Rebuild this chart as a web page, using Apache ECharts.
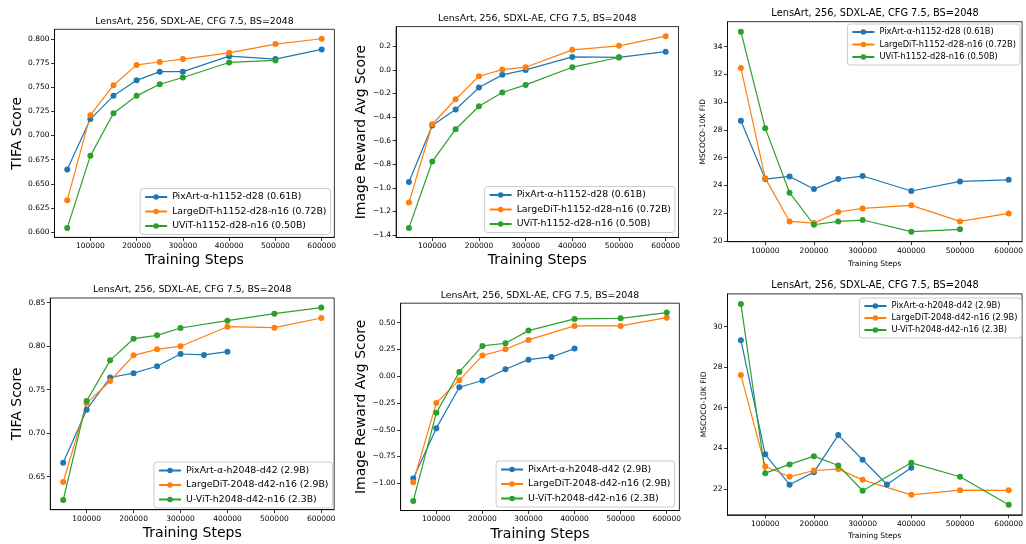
<!DOCTYPE html>
<html><head><meta charset="utf-8">
<script src="https://cdn.jsdelivr.net/npm/echarts@6/dist/echarts.min.js"></script>
<style>html,body{margin:0;padding:0;background:#fff}#c{width:1026px;height:544px}</style>
</head><body><div id="c"></div>
<script>
// ---------- data ----------
const titleText = 'LensArt, 256, SDXL-AE, CFG 7.5, BS=2048';
const xName = 'Training Steps';
const xTicks = [100000, 200000, 300000, 400000, 500000, 600000];

const steps = [50000, 100000, 150000, 200000, 250000, 300000, 400000, 500000, 600000];
const stepsTo500k = [50000, 100000, 150000, 200000, 250000, 300000, 400000, 500000];
const stepsPixBottom = [50000, 100000, 150000, 200000, 250000, 300000, 350000, 400000];

const namesTop = ['PixArt-α-h1152-d28 (0.61B)', 'LargeDiT-h1152-d28-n16 (0.72B)', 'UViT-h1152-d28-n16 (0.50B)'];
const namesBottom = ['PixArt-α-h2048-d42 (2.9B)', 'LargeDiT-2048-d42-n16 (2.9B)', 'U-ViT-h2048-d42-n16 (2.3B)'];

// top row
const tifaTopPix   = [0.665, 0.717, 0.741, 0.757, 0.766, 0.766, 0.782, 0.779, 0.789];
const tifaTopLarge = [0.633, 0.721, 0.752, 0.773, 0.776, 0.779, 0.7855, 0.7945, 0.800];
const tifaTopUvit  = [0.6045, 0.679, 0.723, 0.741, 0.753, 0.760, 0.7755, 0.7776];

const irTopPix   = [-0.95, -0.472, -0.336, -0.15, -0.042, 0.0, 0.11, 0.107, 0.155];
const irTopLarge = [-1.125, -0.461, -0.249, -0.054, 0.003, 0.023, 0.17, 0.204, 0.286];
const irTopUvit  = [-1.34, -0.777, -0.503, -0.308, -0.192, -0.127, 0.023, 0.105];

const fidTopPix   = [28.66, 24.46, 24.65, 23.74, 24.46, 24.68, 23.6, 24.29, 24.41];
const fidTopLarge = [32.47, 24.53, 21.41, 21.29, 22.09, 22.35, 22.57, 21.41, 21.99];
const fidTopUvit  = [35.08, 28.13, 23.48, 21.17, 21.41, 21.51, 20.67, 20.84];

// bottom row
const tifaBotPix   = [0.666, 0.727, 0.764, 0.769, 0.777, 0.791, 0.790, 0.7937];
const tifaBotLarge = [0.644, 0.7343, 0.760, 0.7895, 0.7964, 0.800, 0.8224, 0.8213, 0.8324];
const tifaBotUvit  = [0.6232, 0.737, 0.7837, 0.8086, 0.8125, 0.8209, 0.8293, 0.8374, 0.8443];

const irBotPix   = [-0.955, -0.485, -0.103, -0.04, 0.065, 0.155, 0.18, 0.258];
const irBotLarge = [-0.99, -0.249, -0.037, 0.193, 0.252, 0.339, 0.47, 0.47, 0.547];
const irBotUvit  = [-1.166, -0.342, 0.04, 0.283, 0.308, 0.426, 0.535, 0.541, 0.594];

const fidBotPix   = [29.33, 23.7, 22.2, 22.82, 24.65, 23.43, 22.21, 23.04];
const fidBotLarge = [27.61, 23.1, 22.59, 22.9, 22.97, 22.44, 21.7, 21.93, 21.92];
const fidBotUvit  = [31.12, 22.77, 23.2, 23.61, 23.15, 21.9, 23.28, 22.59, 21.21];

// y tick labels
const yTicksTifaTop = [0.600, 0.625, 0.650, 0.675, 0.700, 0.725, 0.750, 0.775, 0.800];
const yTicksIrTop   = [-1.4, -1.2, -1.0, -0.8, -0.6, -0.4, -0.2, 0.0, 0.2];
const yTicksFidTop  = [20, 22, 24, 26, 28, 30, 32, 34];
const yTicksTifaBot = [0.65, 0.70, 0.75, 0.80, 0.85];
const yTicksIrBot   = [-1.00, -0.75, -0.50, -0.25, 0.00, 0.25, 0.50];
const yTicksFidBot  = [22, 24, 26, 28, 30];

// ---------- chart ----------
const FONT = 'DejaVu Sans';
const COLORS = ['#1f77b4', '#ff7f0e', '#2ca02c'];

function extent(arrs) {
  let lo = Infinity, hi = -Infinity;
  arrs.forEach(a => a.forEach(v => { lo = Math.min(lo, v); hi = Math.max(hi, v); }));
  const m = (hi - lo) * 0.05;
  return [lo - m, hi + m];
}
function fmt(d) {
  return v => {
    let s = Number(v).toFixed(d);
    if (/^-0\.?0*$/.test(s)) s = s.slice(1);
    return s.replace('-', '\u2212');
  };
}

const panels = [
  { grid: {left: 54.5, top: 29.3, width: 279.9, height: 208.1}, yTicks: yTicksTifaTop, dec: 3, yName: 'TIFA Score', big: true, yGap: 29, xGap: 16,
    names: namesTop, data: [[steps, tifaTopPix], [steps, tifaTopLarge], [stepsTo500k, tifaTopUvit]],
    legend: {right: 695.5, bottom: 309.5}, titleSize: 9.4, legendSize: 9.4, gap: 5.5 },
  { grid: {left: 396.1, top: 26.6, width: 282.4, height: 210.9}, yTicks: yTicksIrTop, dec: 1, yName: 'Image Reward Avg Score', big: true, yGap: 28, xGap: 16,
    names: namesTop, data: [[steps, irTopPix], [steps, irTopLarge], [stepsTo500k, irTopUvit]],
    legend: {right: 351, bottom: 311.5}, titleSize: 9.4, legendSize: 9.4, gap: 5.5 },
  { grid: {left: 727.5, top: 21.7, width: 295.2, height: 220}, yTicks: yTicksFidTop, dec: 0, yName: 'MSCOCO-10K FID', big: false, yGap: 20, xGap: 18,
    names: namesTop, data: [[steps, fidTopPix], [steps, fidTopLarge], [stepsTo500k, fidTopUvit]],
    legend: {right: 6, top: 24}, titleSize: 9.8, legendSize: 8.3, gap: 4.5 },
  { grid: {left: 50.3, top: 298, width: 283.9, height: 211.7}, yTicks: yTicksTifaBot, dec: 2, yName: 'TIFA Score', big: true, yGap: 24, xGap: 17,
    names: namesBottom, data: [[stepsPixBottom, tifaBotPix], [steps, tifaBotLarge], [steps, tifaBotUvit]],
    legend: {right: 693.5, bottom: 36}, titleSize: 9.4, legendSize: 9.4, gap: 5.5 },
  { grid: {left: 400.6, top: 303.2, width: 278.8, height: 207.3}, yTicks: yTicksIrBot, dec: 2, yName: 'Image Reward Avg Score', big: true, yGap: 32, xGap: 17,
    names: namesBottom, data: [[stepsPixBottom, irBotPix], [steps, irBotLarge], [steps, irBotUvit]],
    legend: {right: 351.5, bottom: 37}, titleSize: 9.4, legendSize: 9.4, gap: 5.5 },
  { grid: {left: 727.5, top: 293.9, width: 295.2, height: 220.9}, yTicks: yTicksFidBot, dec: 0, yName: 'MSCOCO-10K FID', big: false, yGap: 19.5, xGap: 17,
    names: namesBottom, data: [[stepsPixBottom, fidBotPix], [steps, fidBotLarge], [steps, fidBotUvit]],
    legend: {right: 4.5, top: 298}, titleSize: 9.8, legendSize: 8.3, gap: 4 }
];

const option = { animation: false, backgroundColor: '#fff', grid: [], xAxis: [], yAxis: [], series: [], legend: [], graphic: [] };
const xExt = extent([steps]);

panels.forEach((p, i) => {
  option.grid.push(Object.assign({ show: true, borderColor: '#000', borderWidth: 0.8, backgroundColor: 'transparent', containLabel: false }, p.grid));
  const yExt = extent(p.data.map(d => d[1]));
  const nameSize = p.big ? 14 : 7.5;
  option.xAxis.push({
    type: 'value', gridIndex: i, min: xExt[0], max: xExt[1],
    name: xName, nameLocation: 'middle', nameGap: p.xGap,
    nameTextStyle: { fontFamily: FONT, fontSize: nameSize, color: '#000' },
    axisLine: { show: true, onZero: false, lineStyle: { color: '#000', width: 0.8 } },
    axisTick: { show: true, length: 3.5, lineStyle: { color: '#000', width: 0.8 }, customValues: xTicks },
    axisLabel: { fontFamily: FONT, fontSize: 7.5, color: '#000', margin: 5, customValues: xTicks, formatter: v => String(v) },
    splitLine: { show: false }
  });
  option.yAxis.push({
    type: 'value', gridIndex: i, min: yExt[0], max: yExt[1],
    name: p.yName, nameLocation: 'middle', nameGap: p.yGap,
    nameTextStyle: { fontFamily: FONT, fontSize: nameSize, color: '#000' },
    axisLine: { show: true, onZero: false, lineStyle: { color: '#000', width: 0.8 } },
    axisTick: { show: true, length: 3.5, lineStyle: { color: '#000', width: 0.8 }, customValues: p.yTicks },
    axisLabel: { fontFamily: FONT, fontSize: 7.5, color: '#000', margin: 5, customValues: p.yTicks, formatter: fmt(p.dec) },
    splitLine: { show: false }
  });
  p.data.forEach((d, j) => {
    option.series.push({
      type: 'line', name: p.names[j], xAxisIndex: i, yAxisIndex: i,
      data: d[0].map((x, k) => [x, d[1][k]]),
      symbol: 'circle', symbolSize: 6, showSymbol: true,
      lineStyle: { width: 1.2, color: COLORS[j] },
      itemStyle: { color: COLORS[j] },
      emphasis: { disabled: true }
    });
  });
  option.legend.push(Object.assign({
    data: p.names, orient: 'vertical', selectedMode: false,
    itemWidth: 22, itemHeight: 7, itemGap: p.gap,
    padding: [4, 4, 4, 4],
    backgroundColor: 'rgba(255,255,255,0.8)', borderColor: '#cccccc', borderWidth: 1, borderRadius: 3,
    textStyle: { fontFamily: FONT, fontSize: p.legendSize, color: '#000' }
  }, p.legend));
  option.graphic.push({
    type: 'text', z: 10,
    style: {
      text: titleText, x: p.grid.left + p.grid.width / 2, y: p.grid.top - 8,
      align: 'center', verticalAlign: 'middle',
      fontFamily: FONT, fontSize: p.titleSize, fill: '#000'
    }
  });
});

const chart = echarts.init(document.getElementById('c'), null, { renderer: 'canvas' });
chart.setOption(option);
</script>
</body></html>
